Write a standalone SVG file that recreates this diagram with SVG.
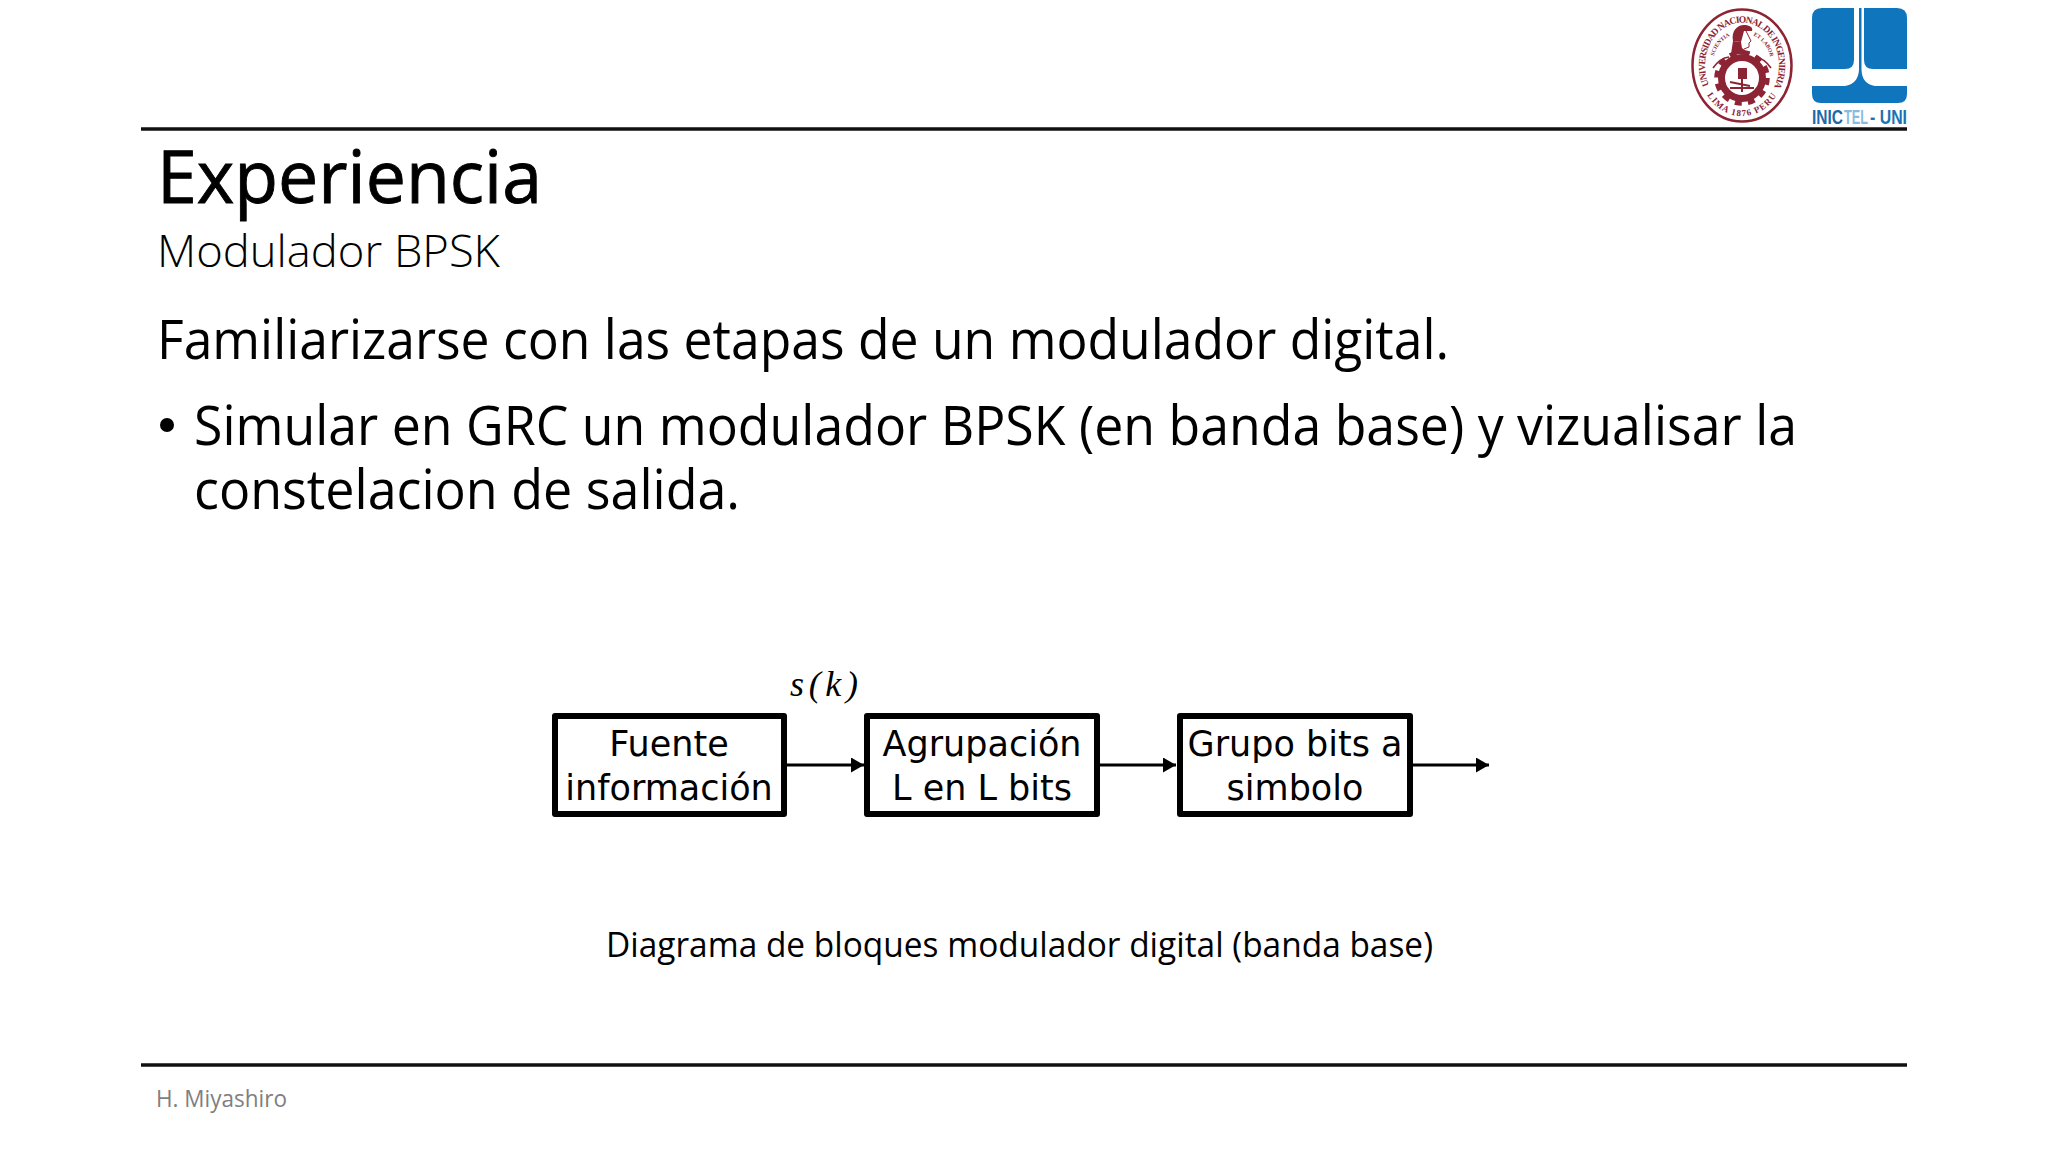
<svg xmlns="http://www.w3.org/2000/svg" width="2048" height="1152" viewBox="0 0 2048 1152">
<defs>
<style>
.cal{font-family:"Open Sans","Noto Sans","Liberation Sans",sans-serif;fill:#000}
.box{fill:#fff;stroke:#000;stroke-width:6;stroke-linejoin:round}
.lbl{font-family:"DejaVu Sans",sans-serif;font-size:35px;fill:#000;text-anchor:middle}
.wire{stroke:#000;stroke-width:3;fill:none;marker-end:url(#ah)}
.rule{stroke:#111;stroke-width:3.5}
.seal{font-family:"Liberation Serif",serif;fill:#8d2434;font-weight:700}
.m{fill:#8d2434}
.ml{fill:none;stroke:#8d2434}
.ib{fill:#0f76bd}
</style>
<marker id="ah" markerUnits="userSpaceOnUse" markerWidth="14" markerHeight="16" refX="13" refY="7.5" orient="auto"><path d="M0,0L13,7.5L0,15Z" fill="#000"/></marker>
<path id="sealArc" d="M1709,85A37,43 0 1 1 1775,85"/>
<path id="sealArcB" d="M1706,93A43,51 0 0 0 1778,93"/>
<path id="sealL" d="M1714,56A29,29 0 0 1 1730,36"/>
<path id="sealR" d="M1754,36A29,29 0 0 1 1770,56"/>
</defs>
<rect width="2048" height="1152" fill="#fff"/>
<line class="rule" x1="141" y1="129" x2="1907" y2="129"/>
<line class="rule" x1="141" y1="1065" x2="1907" y2="1065"/>
<text class="cal" x="157" y="203" font-size="74" stroke="#000" stroke-width="0.9" textLength="385" lengthAdjust="spacingAndGlyphs">Experiencia</text>
<text class="cal" x="157" y="267" font-size="44" font-weight="300" textLength="343" lengthAdjust="spacingAndGlyphs">Modulador BPSK</text>
<text class="cal" x="157" y="359" font-size="54" textLength="1292" lengthAdjust="spacingAndGlyphs">Familiarizarse con las etapas de un modulador digital.</text>
<circle cx="167" cy="425" r="7" fill="#000"/>
<text class="cal" x="194" y="445" font-size="54" textLength="1603" lengthAdjust="spacingAndGlyphs">Simular en GRC un modulador BPSK (en banda base) y vizualisar la</text>
<text class="cal" x="194" y="509" font-size="54" textLength="546" lengthAdjust="spacingAndGlyphs">constelacion de salida.</text>
<text class="cal" x="606" y="957" font-size="35" textLength="827" lengthAdjust="spacingAndGlyphs">Diagrama de bloques modulador digital (banda base)</text>
<text class="cal" x="156" y="1107" font-size="24" style="fill:#7f7f7f" textLength="131" lengthAdjust="spacingAndGlyphs">H. Miyashiro</text>
<g id="connectors">
<line class="wire" x1="787" y1="765" x2="864" y2="765"/>
<line class="wire" x1="1100" y1="765" x2="1176" y2="765"/>
<line class="wire" x1="1413" y1="765" x2="1489" y2="765"/>
</g>
<g id="n1"><rect class="box" x="555" y="716" width="229" height="98"/><text class="lbl" x="669" y="756">Fuente</text><text class="lbl" x="669" y="800">información</text></g>
<g id="n2"><rect class="box" x="867" y="716" width="230" height="98"/><text class="lbl" x="982" y="756">Agrupación</text><text class="lbl" x="982" y="800">L en L bits</text></g>
<g id="n3"><rect class="box" x="1180" y="716" width="230" height="98"/><text class="lbl" x="1295" y="756">Grupo bits a</text><text class="lbl" x="1295" y="800">simbolo</text></g>
<text x="790" y="696" font-family="Liberation Serif,serif" font-size="36" font-style="italic" textLength="68" lengthAdjust="spacing">s(k)</text>
<g id="logo-uni">
<ellipse cx="1742" cy="65.5" rx="49.5" ry="56" fill="#fff" stroke="#8d2434" stroke-width="2.5"/>
<text class="seal" font-size="9.5"><textPath href="#sealArc" textLength="168" lengthAdjust="spacing">UNIVERSIDAD NACIONAL DE INGENIERIA</textPath></text>
<text class="seal" font-size="9" text-anchor="middle" letter-spacing="1"><textPath href="#sealArcB" startOffset="50%">LIMA 1876 PERU</textPath></text>
<text class="seal" font-size="5.5" text-anchor="middle"><textPath href="#sealL" startOffset="50%">SCIENTIA</textPath></text>
<text class="seal" font-size="5.5" text-anchor="middle"><textPath href="#sealR" startOffset="50%">ET LABOR</textPath></text>
<path class="m" d="M1733,41C1731,30 1738,24 1746,25C1751,26 1753,28 1752,31L1744,31L1741,42Z"/>
<path class="ml" stroke-width="1" d="M1746,31L1749,37L1751,41L1749,43L1749,47L1744,49"/>
<path class="m" d="M1733,41L1741,42L1742,48L1750,54H1731Z"/>
<circle class="ml" cx="1742" cy="78" r="20.5" stroke-width="7"/>
<circle class="ml" cx="1742" cy="78" r="25.5" stroke-width="4.5" stroke-dasharray="7 6.35"/>
<path class="ml" stroke-width="1.6" d="M1713,68Q1720,58 1729,57M1771,68Q1764,58 1755,57"/>
<rect class="m" x="1738" y="68" width="9" height="11"/>
<path class="ml" stroke-width="2" d="M1730,82L1750,86M1730,88H1754M1742,78V92"/>
</g>
<g id="logo-inictel">
<path class="ib" d="M1822,8H1854V60Q1854,69 1845,69H1812V18Q1812,8 1822,8ZM1864,8H1897Q1907,8 1907,18V69H1873Q1864,69 1864,60Z"/>
<path class="ib" d="M1812,86H1845Q1858,84 1859,70V8H1861.5V70Q1862,84 1875,86H1907V94Q1907,103 1898,103H1821Q1812,103 1812,94Z"/>
<text y="123.5" font-family="Liberation Sans,sans-serif" font-weight="700" font-size="20"><tspan x="1812" fill="#1a6aa8" textLength="31" lengthAdjust="spacingAndGlyphs">INIC</tspan><tspan x="1844" fill="#86bce0" textLength="24" lengthAdjust="spacingAndGlyphs">TEL</tspan><tspan x="1870" fill="#1a72b4" textLength="37" lengthAdjust="spacingAndGlyphs">- UNI</tspan></text>
</g>
</svg>
